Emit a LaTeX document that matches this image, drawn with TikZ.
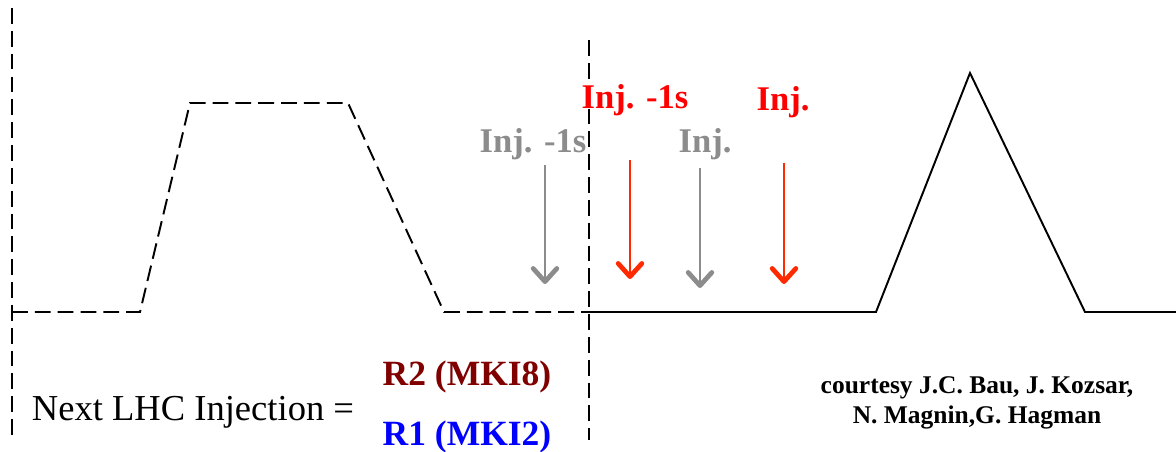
\documentclass[tikz,border=0pt]{standalone}
\usepackage{fontspec}
\setmainfont{Liberation Serif}
\usetikzlibrary{arrows.meta, positioning}
\definecolor{injgrey}{HTML}{8C8C8C}
\definecolor{injred}{HTML}{FF0000}
\definecolor{arrred}{HTML}{FF2A00}
\definecolor{rtwo}{HTML}{800000}
\definecolor{rone}{HTML}{0000FF}

\begin{document}
\begin{tikzpicture}[x=0.02cm, y=-0.02cm, line width=1.1pt,
      dsh/.style={dash pattern=on 9pt off 4pt},
      lbl/.style={font=\fontsize{19.7}{22}\selectfont\bfseries, inner sep=0pt},
      inj/.style={line width=1.3pt,
                  -{Straight Barb[length=7.5pt, width=13.5pt, line width=2.7pt, round]}},
      note/.style={font=\fontsize{14.5}{17.5}\selectfont\bfseries, align=center, inner sep=0pt}]
    \useasboundingbox (0,0) rectangle (1176,452);
    % cycle markers
    \coordinate (lt) at (12,8);   \coordinate (lb) at (12,440);
    \coordinate (mt) at (589,40); \coordinate (mb) at (589,440);
    \draw[dsh] (lt) -- (lb);
    \draw[dsh] (mt) -- (mb);
    % previous cycle (dashed) and next cycle (solid)
    \draw[dsh] (12,312) -- (140,312) -- (190,103) -- (348,103) -- (444,312) -- (589,312);
    \draw (589,312) -- (876,312) -- (970,73) -- (1085,312) -- (1176,312);
    % injection warnings
    \node[lbl, text=injgrey] (g1) at (533,144) {Inj. -1s};
    \node[lbl, text=injred]  (r1) at (635,100) {Inj. -1s};
    \node[lbl, text=injgrey] (g2) at (705,144) {Inj.};
    \node[lbl, text=injred]  (r2) at (783,102) {Inj.};
    \coordinate (g1s) at (545,165); \coordinate (g1e) at (545,284);
    \coordinate (r1s) at (630,160); \coordinate (r1e) at (630,279);
    \coordinate (g2s) at (700,168); \coordinate (g2e) at (700,288);
    \coordinate (r2s) at (784,163); \coordinate (r2e) at (784,284);
    \draw[inj, draw=injgrey] (g1s) -- (g1e);
    \draw[inj, draw=arrred]  (r1s) -- (r1e);
    \draw[inj, draw=injgrey] (g2s) -- (g2e);
    \draw[inj, draw=arrred]  (r2s) -- (r2e);
    % legend
    \node[font=\fontsize{20.8}{24}\selectfont, inner sep=0pt] (nxt) at (193,412) {Next LHC Injection =};
    \node[lbl, text=rtwo, font=\fontsize{20.2}{24}\selectfont\bfseries] (rtw) at (467,377) {R2 (MKI8)};
    \node[lbl, text=rone, font=\fontsize{20.2}{24}\selectfont\bfseries] (ron) at (467,437) {R1 (MKI2)};
    \node[note] (crt) at (977,403) {courtesy J.C. Bau, J. Kozsar,\\N. Magnin,G. Hagman};
  \end{tikzpicture}
\end{document}
